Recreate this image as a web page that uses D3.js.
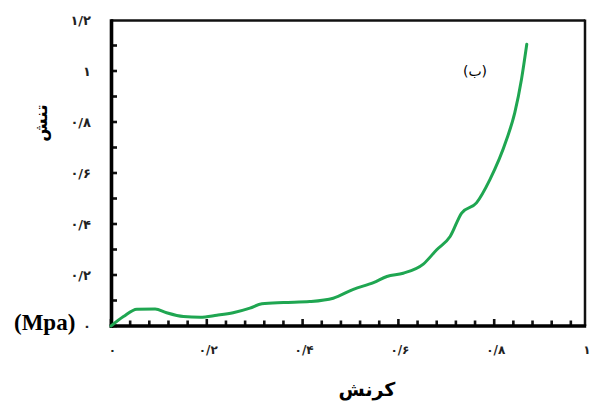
<!DOCTYPE html>
<html><head><meta charset="utf-8">
<script src="https://cdn.jsdelivr.net/npm/d3@7"></script>
<style>html,body{margin:0;padding:0;background:#fff;}svg{display:block;}</style>
</head><body>
<svg id="c" width="592" height="401"></svg>
<script>
// strain (x) values
const strain = [0, 0.026, 0.054, 0.092, 0.116, 0.151, 0.186, 0.221, 0.255, 0.290, 0.315, 0.360, 0.415, 0.464, 0.506, 0.548, 0.576, 0.610, 0.652, 0.680, 0.708, 0.732, 0.763, 0.791, 0.826, 0.843, 0.857, 0.868];
// stress (y) values
const stress = [0, 0.037, 0.066, 0.067, 0.052, 0.037, 0.034, 0.042, 0.052, 0.070, 0.087, 0.092, 0.096, 0.109, 0.144, 0.170, 0.194, 0.207, 0.243, 0.299, 0.351, 0.443, 0.483, 0.574, 0.732, 0.837, 0.968, 1.105];
const xTickValues = [0, 0.2, 0.4, 0.6, 0.8, 1];
const xTickLabels = ["۰", "۰/۲", "۰/۴", "۰/۶", "۰/۸", "۱"];
const yTickValues = [0, 0.2, 0.4, 0.6, 0.8, 1, 1.2];
const yTickLabels = ["۰", "۰/۲", "۰/۴", "۰/۶", "۰/۸", "۱", "۱/۲"];
const xMinor = d3.range(0, 25).map(i => i * 0.04);
const yMinor = d3.range(0, 12).map(i => i * 0.1);

const svg = d3.select("#c");
const x = d3.scaleLinear().domain([0, 1]).range([111, 590]);
const y = d3.scaleLinear().domain([0, 1.2]).range([326, 20]);
const frameRight = 585, frameTop = 20.5;

// frame
svg.append("line").attr("x1", x(0)).attr("x2", frameRight).attr("y1", frameTop).attr("y2", frameTop)
  .attr("stroke", "#111").attr("stroke-width", 2.5);
svg.append("line").attr("x1", frameRight).attr("x2", frameRight).attr("y1", frameTop - 1).attr("y2", y(0))
  .attr("stroke", "#111").attr("stroke-width", 2.5);

// ticks x
svg.append("g").selectAll("line").data(xMinor).join("line")
  .attr("x1", d => x(d)).attr("x2", d => x(d))
  .attr("y1", y(0)).attr("y2", d => y(0) - (Math.abs(d * 5 - Math.round(d * 5)) < 1e-6 ? 7 : 5.5))
  .attr("stroke", "#111").attr("stroke-width", 2.6);
// ticks y
svg.append("g").selectAll("line").data(yMinor).join("line")
  .attr("x1", x(0)).attr("x2", x(0) + 6)
  .attr("y1", d => y(d)).attr("y2", d => y(d))
  .attr("stroke", "#111").attr("stroke-width", 2.6);

// axes lines
svg.append("line").attr("x1", x(0) + 0.5).attr("x2", x(0) + 0.5).attr("y1", frameTop - 1.2).attr("y2", y(0) + 2)
  .attr("stroke", "#000").attr("stroke-width", 3.6);
svg.append("line").attr("x1", x(0) - 1.3).attr("x2", frameRight + 1.2).attr("y1", y(0)).attr("y2", y(0))
  .attr("stroke", "#000").attr("stroke-width", 3.6);

// tick labels
svg.append("g").selectAll("text").data(xTickValues).join("text")
  .attr("x", d => Math.min(x(d) + 1.5, 587)).attr("y", 354)
  .attr("text-anchor", "middle")
  .attr("font-family", "DejaVu Sans, sans-serif").attr("font-size", 12).attr("font-weight", "bold")
  .attr("letter-spacing", 1)
  .attr("fill", "#222").attr("direction", "ltr")
  .text((d, i) => xTickLabels[i]);
svg.append("g").selectAll("text").data(yTickValues).join("text")
  .attr("x", 91).attr("y", d => y(d) + 4.5)
  .attr("text-anchor", "end")
  .attr("font-family", "DejaVu Sans, sans-serif").attr("font-size", 13).attr("font-weight", "bold")
  .attr("letter-spacing", 1.5)
  .attr("fill", "#222").attr("direction", "ltr")
  .text((d, i) => yTickLabels[i]);

// curve
const pts = strain.map((s, i) => [s, stress[i]]);
svg.append("path").datum(pts)
  .attr("fill", "none").attr("stroke", "#1fa651").attr("stroke-width", 3)
  .attr("stroke-linejoin", "round").attr("stroke-linecap", "round")
  .attr("d", d3.line().x(d => x(d[0])).y(d => y(d[1])).curve(d3.curveMonotoneX));

// titles
svg.append("text").attr("x", 367).attr("y", 396).attr("text-anchor", "middle")
  .attr("font-family", "DejaVu Sans, sans-serif").attr("font-size", 19).attr("font-weight", "bold")
  .text("کرنش");
svg.append("text").attr("transform", "translate(47,123) rotate(-90)").attr("text-anchor", "middle")
  .attr("font-family", "DejaVu Sans, sans-serif").attr("font-size", 17).attr("font-weight", "bold")
  .text("تنش");
svg.append("text").attr("x", 14).attr("y", 330)
  .attr("font-family", "Liberation Serif, serif").attr("font-size", 23).attr("font-weight", "bold")
  .text("(Mpa)");
svg.append("text").attr("x", 475).attr("y", 76).attr("text-anchor", "middle")
  .attr("font-family", "DejaVu Sans, sans-serif").attr("font-size", 14)
  .text("(ب)");
</script>
</body></html>
